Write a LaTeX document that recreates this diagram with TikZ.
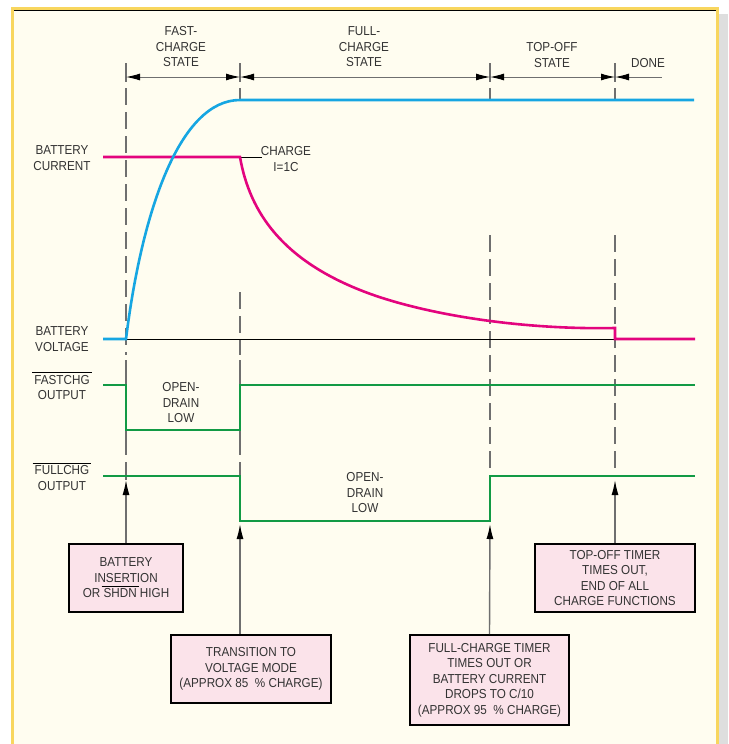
\documentclass[tikz,border=0pt]{standalone}
\usepackage{fontspec}
\setmainfont{Liberation Sans}[FakeStretch=0.9]
\usetikzlibrary{arrows.meta}
\definecolor{cream}{HTML}{FFFDF0}
\definecolor{ybord}{HTML}{F8D65E}
\definecolor{shadowg}{HTML}{DEDEDE}
\definecolor{bluel}{HTML}{16A6E2}
\definecolor{magl}{HTML}{E3047E}
\definecolor{grnl}{HTML}{129A45}
\definecolor{pinkf}{HTML}{FBE3EA}
\definecolor{guide}{HTML}{6F6F6F}
\definecolor{txt}{HTML}{333333}
\newcommand\barred[1]{\begingroup\setbox0\hbox{#1}\rlap{\kern-2pt\raisebox{\dimexpr\ht0+2pt\relax}{\color{black}\rule{\dimexpr\wd0+4pt\relax}{1.3pt}}}\box0\endgroup}
\tikzset{
  lbl/.style={align=center, inner sep=0pt, text=txt},
  evbox/.style={draw=black, line width=1.6pt, fill=pinkf, align=center, inner sep=0pt, text=txt},
  curveb/.style={draw=bluel, line width=2.6pt},
  curvem/.style={draw=magl, line width=2.6pt},
  curveg/.style={draw=grnl, line width=2.6pt},
  guideline/.style={draw=guide, line width=1.4pt},
  guidedash/.style={draw=guide, line width=1.4pt, dash pattern=on 17pt off 7pt},
  dimline/.style={draw=guide, line width=1pt, {Latex[length=14pt,width=7pt,color=black]}-{Latex[length=14pt,width=7pt,color=black]}},
  evarrow/.style={draw=guide, line width=1.4pt, -{Latex[length=15pt,width=7pt,color=black]}}
}
\begin{document}
\begin{tikzpicture}[x=1pt,y=-1pt,font=\fontsize{13}{15.5}\selectfont]
\useasboundingbox (0,0) rectangle (728,744);
% frame
\fill[white] (0,0) rectangle (728,744);
\fill[shadowg] (719,14) rectangle (728,744);
\fill[cream] (13,8) rectangle (717.5,744);
\draw[ybord, line width=2.8pt] (12.7,746) -- (12.7,8.2) -- (717.5,8.2) -- (717.5,746);
\draw[black, line width=1.3pt] (14,10.4) -- (716,10.4);

% event coordinates
\coordinate (t1) at (126,480);
\coordinate (t2) at (240,524);
\coordinate (t3) at (490,524);
\coordinate (t4) at (615,480);
\coordinate (d1) at (126,77);
\coordinate (d2) at (240,77);
\coordinate (d3) at (490,77);
\coordinate (d4) at (615,77);
\coordinate (d5) at (662,77);

% guide lines
\foreach \x in {126,240,490,615} {
  \draw[guideline] (\x,63) -- (\x,82);
}
\foreach \x in {240,490,615} {
  \draw[guideline] (\x,88) -- (\x,100);
}
\draw[guidedash] (126,88) -- (126,355);
\draw[guideline] (126,360) -- (126,455);
\draw[guideline] (126,462) -- (t1);
\draw[guidedash] (240,292) -- (240,355);
\draw[guideline] (240,360) -- (240,455);
\draw[guideline] (240,462) -- (240,476);
\draw[guidedash] (490,235) -- (490,470);
\draw[guidedash] (615,235) -- (615,470);

% dimension arrows
\draw[dimline] (d1) -- (d2);
\draw[dimline] (d2) -- (d3);
\draw[dimline] (d3) -- (d4);
\draw[draw=guide, line width=1pt, {Latex[length=14pt,width=7pt,color=black]}-] (d4) -- (d5);

\node[lbl] (sfast) at (181,47) {FAST-\\CHARGE\\STATE};
\node[lbl] (sfull) at (364,47) {FULL-\\CHARGE\\STATE};
\node[lbl] (stop) at (552,55) {TOP-OFF\\STATE};
\node[lbl] (sdone) at (648,63) {DONE};

% signal labels
\node[lbl] (lcur) at (62,158) {BATTERY\\CURRENT};
\node[lbl] (lvol) at (62,339) {BATTERY\\VOLTAGE};
\node[lbl] (lfast) at (62,386) {\barred{FASTCHG}\\OUTPUT};
\node[lbl] (lfull) at (62,476.5) {\barred{FULLCHG}\\OUTPUT};

% baseline
\draw[black, line width=0.9pt] (126,339) -- (615,339);
% charge leader
\draw[black, line width=0.9pt] (240,157) -- (262,157);
\node[lbl] (lchg) at (286,159) {CHARGE\\I=1C};

% curves
\draw[curvem] (103,157) -- (240,157) .. controls (250,215) and (285,260) .. (360,290)
      .. controls (420,314) and (520,330) .. (615,328) -- (615,339) -- (695,339);
\draw[curveb] (103,339) -- (126,339) .. controls (142,210) and (180,100) .. (240,100) -- (694,100);

% digital outputs
\draw[curveg] (103,385) -- (126,385) -- (126,430) -- (240,430) -- (240,385) -- (695,385);
\draw[curveg] (103,476) -- (240,476) -- (240,521) -- (490,521) -- (490,476) -- (695,476);
\node[lbl] (od1) at (181,403) {OPEN-\\DRAIN\\LOW};
\node[lbl] (od2) at (365,493) {OPEN-\\DRAIN\\LOW};

% event boxes
\node[evbox, minimum width=114pt, minimum height=68pt] (b1) at (126,578)
  {BATTERY\\INSERTION\\OR \barred{SHDN} HIGH};
\node[evbox, minimum width=160pt, minimum height=68pt] (b2) at (251,669)
  {TRANSITION TO\\VOLTAGE MODE\\(APPROX 85\ \ \% CHARGE)};
\node[evbox, minimum width=159pt, minimum height=90pt] (b3) at (489.5,680)
  {FULL-CHARGE TIMER\\TIMES OUT OR\\BATTERY CURRENT\\DROPS TO C/10\\(APPROX 95\ \ \% CHARGE)};
\node[evbox, minimum width=160pt, minimum height=68pt] (b4) at (615,578)
  {TOP-OFF TIMER\\TIMES OUT,\\END OF ALL\\CHARGE FUNCTIONS};

\draw[evarrow] (b1.north) -- (t1);
\draw[evarrow] (b2.north -| t2) -- (t2);
\draw[evarrow] (b3.north) -- (t3);
\draw[evarrow] (b4.north) -- (t4);
\end{tikzpicture}
\end{document}
